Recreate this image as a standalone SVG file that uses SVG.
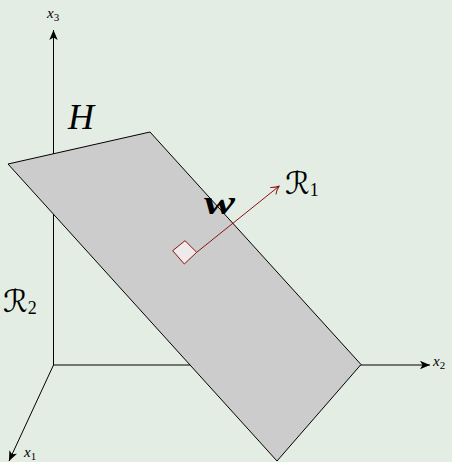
<svg xmlns="http://www.w3.org/2000/svg" width="452" height="462" viewBox="0 0 452 462">
<defs>
<style>
.axis{stroke:#000;stroke-width:1;fill:none}
.edge{stroke:#000;stroke-width:1;fill:#cccccc;stroke-linejoin:round}
.red{stroke:#8b1414;stroke-width:1;fill:none}
.lab{font-family:"Liberation Serif","DejaVu Serif",serif;font-style:italic;fill:#000}
.cal{font-family:"DejaVu Serif","DejaVu Sans",serif;font-style:italic;fill:#000}
.sub{font-family:"Liberation Serif","DejaVu Serif",serif;font-style:normal;fill:#000}
</style>
<marker id="ah" markerWidth="12" markerHeight="10" refX="10" refY="5" orient="auto" markerUnits="userSpaceOnUse">
<path d="M0,0.8 L10,5 L0,9.2 L2.5,5 Z" fill="#000"/>
</marker>
<marker id="rh" markerWidth="12" markerHeight="12" refX="9" refY="6" orient="auto" markerUnits="userSpaceOnUse">
<path d="M1,1.5 Q5,5 9,6 Q5,7 1,10.5" fill="none" stroke="#8b1414" stroke-width="1"/>
</marker>
</defs>
<rect width="452" height="462" fill="#e3ede3"/>
<g id="connectors">
<line class="axis" x1="53.5" y1="365" x2="53.5" y2="30" marker-end="url(#ah)"/>
<line class="axis" x1="53" y1="365" x2="430" y2="365" marker-end="url(#ah)"/>
<line class="axis" x1="53.5" y1="365" x2="9" y2="461" marker-end="url(#ah)"/>
</g>
<g id="plane-H">
<polygon class="edge" points="8,164 150,132 361,364.5 277,461"/>
</g>
<g id="normal-w">
<polygon points="172.7,250.7 185,240.7 196.7,252.3 184.3,264" fill="#eeeaea" stroke="#8b1414" stroke-width="1"/>
<line class="red" x1="196.7" y1="252.3" x2="279.3" y2="186" marker-end="url(#rh)"/>
</g>
<g id="labels">
<text class="lab" x="47" y="18" font-size="15">x<tspan class="sub" font-size="11" dy="3">3</tspan></text>
<text class="lab" x="433" y="366" font-size="15">x<tspan class="sub" font-size="11" dy="3">2</tspan></text>
<text class="lab" x="24" y="457" font-size="15">x<tspan class="sub" font-size="11" dy="3">1</tspan></text>
<text class="lab" x="68" y="129" font-size="36">H</text>
<text class="lab" x="204" y="214" font-size="34" font-weight="bold" textLength="31" lengthAdjust="spacingAndGlyphs">w</text>
<text class="cal" x="285" y="194" font-size="31">ℛ<tspan class="sub" font-size="18" dy="2">1</tspan></text>
<text class="cal" x="3" y="312" font-size="31">ℛ<tspan class="sub" font-size="18" dy="2">2</tspan></text>
</g>
</svg>
